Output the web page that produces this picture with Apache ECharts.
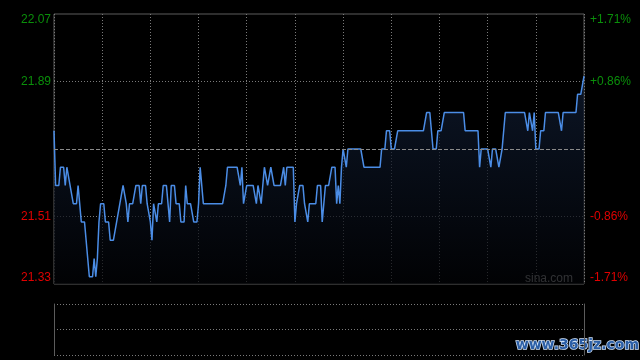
<!DOCTYPE html>
<html><head><meta charset="utf-8">
<script src="https://cdn.jsdelivr.net/npm/echarts@6/dist/echarts.min.js"></script>
<style>html,body{margin:0;padding:0;background:#000;}#c{width:640px;height:360px;}</style>
</head><body><div id="c"></div>
<script>
const prevClose = 21.70;
const priceMin = 21.33;
const priceMax = 22.07;
const priceStep = 0.185;
const leftTickLabels = ['21.33', '21.51', '', '21.89', '22.07'];
const rightTickLabels = ['-1.71%', '-0.86%', '', '+0.86%', '+1.71%'];
const prices = [
21.75,21.60,21.60,21.60,21.65,21.65,21.65,21.60,21.65,21.65,
21.60,21.60,21.55,21.55,21.55,21.60,21.60,21.50,21.50,21.50,
21.50,21.40,21.35,21.35,21.35,21.40,21.35,21.40,21.50,21.55,
21.55,21.55,21.50,21.50,21.50,21.45,21.45,21.45,21.45,21.50,
21.50,21.55,21.55,21.60,21.60,21.55,21.50,21.55,21.55,21.55,
21.55,21.60,21.60,21.60,21.55,21.60,21.60,21.60,21.55,21.55,
21.50,21.45,21.55,21.55,21.50,21.55,21.55,21.55,21.60,21.60,
21.60,21.60,21.50,21.60,21.60,21.60,21.55,21.55,21.55,21.50,
21.50,21.50,21.60,21.55,21.55,21.55,21.55,21.50,21.50,21.50,
21.55,21.65,21.65,21.55,21.55,21.55,21.55,21.55,21.55,21.55,
21.55,21.55,21.55,21.55,21.55,21.55,21.55,21.60,21.65,21.65,
21.65,21.65,21.65,21.65,21.65,21.65,21.60,21.65,21.55,21.55,
21.60,21.60,21.60,21.60,21.60,21.60,21.55,21.60,21.60,21.55,
21.60,21.65,21.65,21.60,21.60,21.65,21.65,21.60,21.60,21.60,
21.60,21.60,21.60,21.65,21.60,21.65,21.65,21.65,21.65,21.65,
21.50,21.55,21.55,21.60,21.60,21.60,21.55,21.55,21.50,21.55,
21.55,21.55,21.55,21.55,21.60,21.60,21.60,21.50,21.50,21.60,
21.60,21.60,21.60,21.65,21.65,21.65,21.55,21.60,21.55,21.65,
21.70,21.70,21.65,21.70,21.70,21.70,21.70,21.70,21.70,21.70,
21.70,21.70,21.70,21.65,21.65,21.65,21.65,21.65,21.65,21.65,
21.65,21.65,21.65,21.65,21.70,21.70,21.70,21.75,21.75,21.75,
21.70,21.70,21.70,21.70,21.75,21.75,21.75,21.75,21.75,21.75,
21.75,21.75,21.75,21.75,21.75,21.75,21.75,21.75,21.75,21.75,
21.75,21.75,21.80,21.80,21.80,21.75,21.70,21.70,21.70,21.75,
21.75,21.75,21.75,21.80,21.80,21.80,21.80,21.80,21.80,21.80,
21.80,21.80,21.80,21.80,21.80,21.80,21.75,21.75,21.75,21.75,
21.75,21.75,21.75,21.75,21.75,21.65,21.70,21.70,21.70,21.70,
21.70,21.70,21.65,21.70,21.70,21.70,21.70,21.65,21.65,21.70,
21.75,21.80,21.80,21.80,21.80,21.80,21.80,21.80,21.80,21.80,
21.80,21.80,21.80,21.80,21.80,21.75,21.80,21.80,21.75,21.80,
21.70,21.70,21.70,21.75,21.75,21.75,21.80,21.80,21.80,21.80,
21.80,21.80,21.80,21.80,21.80,21.80,21.75,21.80,21.80,21.80,
21.80,21.80,21.80,21.80,21.80,21.80,21.85,21.85,21.85,21.85,
21.90
];
// time categories: 09:30-12:00 and 13:01-16:00
const times = [];
function hhmm(m) { const h = Math.floor(m / 60), mm = m % 60; return (h < 10 ? '0' : '') + h + ':' + (mm < 10 ? '0' : '') + mm; }
for (let m = 570; m <= 720; m++) times.push(hhmm(m));
for (let m = 781; m <= 960; m++) times.push(hhmm(m));

const FONT = 'Liberation Sans';
const chart = echarts.init(document.getElementById('c'), null, { renderer: 'canvas' });
function tickIndex(v) { return Math.round((v - priceMin) / priceStep); }
function richFor(idx, txt) {
  if (!txt) return '';
  const key = idx === 4 ? 'gt' : idx === 3 ? 'g' : idx === 1 ? 'r' : 'rb';
  return '{' + key + '|' + txt + '}';
}
const rich = {
  gt: { color: '#0a8f0a', fontSize: 12, fontFamily: FONT, padding: [12, 0, 0, 0] },
  g: { color: '#0a8f0a', fontSize: 12, fontFamily: FONT },
  r: { color: '#e00000', fontSize: 12, fontFamily: FONT },
  rb: { color: '#e00000', fontSize: 12, fontFamily: FONT, padding: [0, 0, 12, 0] }
};
const dotted = [1, 2];
chart.setOption({
  backgroundColor: '#000',
  animation: false,
  grid: [
    { left: 54, right: 56, top: 14, height: 270, show: true, borderColor: '#5c5c5c', borderWidth: 1, backgroundColor: 'transparent' },
    { left: 54, right: 56, top: 304, height: 51, show: false }
  ],
  xAxis: [
    { type: 'category', gridIndex: 0, data: times, boundaryGap: false,
      axisLine: { show: false }, axisTick: { show: false }, axisLabel: { show: false },
      splitLine: { show: true, interval: function (i) { return i % 30 === 0; }, lineStyle: { color: '#7a7a7a', type: dotted, width: 1 } } },
    { type: 'category', gridIndex: 1, data: times, boundaryGap: false,
      axisLine: { show: false }, axisTick: { show: false }, axisLabel: { show: false }, splitLine: { show: false } }
  ],
  yAxis: [
    { type: 'value', gridIndex: 0, min: priceMin, max: priceMax, interval: priceStep, position: 'left',
      axisLine: { show: false }, axisTick: { show: false },
      axisLabel: { margin: 3, formatter: function (v) { const i = tickIndex(v); return richFor(i, leftTickLabels[i]); }, rich: rich },
      splitLine: { show: true, lineStyle: { color: ['transparent', '#7a7a7a', 'transparent', '#7a7a7a', 'transparent'], type: dotted, width: 1 } } },
    { type: 'value', gridIndex: 0, min: priceMin, max: priceMax, interval: priceStep, position: 'right',
      axisLine: { show: false }, axisTick: { show: false },
      axisLabel: { margin: 6, formatter: function (v) { const i = tickIndex(v); return richFor(i, rightTickLabels[i]); }, rich: rich },
      splitLine: { show: false } },
    { type: 'value', gridIndex: 1, min: 0, max: 2, interval: 1, position: 'left',
      axisLine: { show: true, lineStyle: { color: '#5c5c5c' } }, axisTick: { show: false }, axisLabel: { show: false },
      splitLine: { show: true, lineStyle: { color: '#7a7a7a', type: dotted, width: 1 } } },
    { type: 'value', gridIndex: 1, min: 0, max: 2, interval: 1, position: 'right',
      axisLine: { show: true, lineStyle: { color: '#5c5c5c' } }, axisTick: { show: false }, axisLabel: { show: false },
      splitLine: { show: false } }
  ],
  series: [
    { type: 'line', xAxisIndex: 0, yAxisIndex: 0, data: prices, showSymbol: false, symbol: 'none',
      lineStyle: { color: '#4b8de6', width: 1.5 },
      areaStyle: { origin: 'start', color: new echarts.graphic.LinearGradient(0, 0, 0, 1, [
        { offset: 0, color: '#111e35' }, { offset: 1, color: '#020306' }]) },
      markLine: { silent: true, symbol: 'none', label: { show: false },
        lineStyle: { color: '#8a8a8a', type: [4, 2], width: 1 },
        data: [{ yAxis: prevClose }] },
      z: 3 }
  ],
  graphic: [
    { type: 'text', right: 67, top: 273, style: { text: 'sina.com', fill: '#9a9a9a', font: '12px "' + FONT + '"' } },
    { type: 'text', left: 515, top: 338, style: { text: 'www.365jz.com', fill: '#2b5ea6', stroke: '#cfe0f5', lineWidth: 1.5, font: 'bold 14px "DejaVu Sans"' } }
  ]
});
</script>
</body></html>
